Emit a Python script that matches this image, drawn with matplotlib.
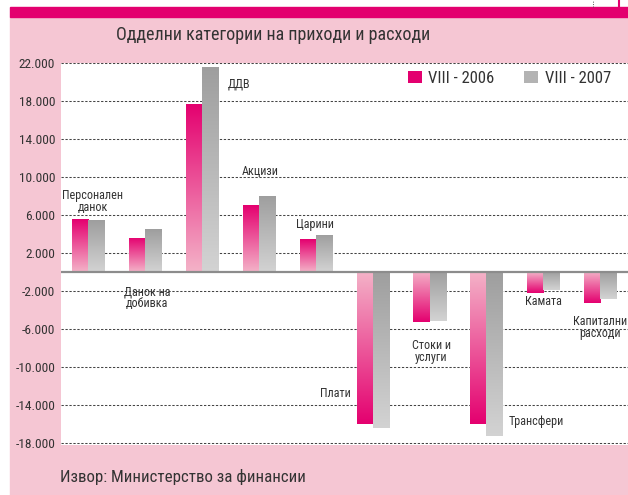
import numpy as np
import matplotlib
matplotlib.use('Agg')
import matplotlib.pyplot as plt
from matplotlib.patches import Rectangle, Patch
from matplotlib.colors import LinearSegmentedColormap
from matplotlib.ticker import FuncFormatter

# -----------------------------------------------
# -             DATA                            -
# -----------------------------------------------
categories = ['Персонален\nданок', 'Данок на\nдобивка', 'ДДВ', 'Акцизи', 'Царини',
              'Плати', 'Стоки и\nуслуги', 'Трансфери', 'Камата', 'Капитални\nрасходи']
values_2006 = [5500, 3600, 17700, 7000, 3400, -16000, -5300, -16000, -2200, -3300]
values_2007 = [5400, 4500, 21500, 8000, 3900, -16500, -5200, -17300, -1900, -2900]
series_names = ['VIII - 2006', 'VIII - 2007']
y_ticks = [22000, 18000, 14000, 10000, 6000, 2000, -2000, -6000, -10000, -14000, -18000]

# label anchor points (x index, y value)
label_x = [0.08, 1.03, 2.65, 3.02, 3.98, 4.34, 6.03, 7.88, 8.01, 9.0]
label_y = [7400, -2750, 19750, 10600, 5000, -12800, -8400, -15800, -3100, -5850]

title = 'Одделни категории на приходи и расходи'
source = 'Извор: Министерство за финансии'

# -----------------------------------------------
# -             STYLE                           -
# -----------------------------------------------
PINK_BG = '#F5C6D3'
MAGENTA = '#E3006F'
TEXT = '#333333'
plt.rcParams['font.family'] = ['Roboto Condensed', 'DejaVu Sans']

pink_cmap = LinearSegmentedColormap.from_list('pink', ['#F4B3C8', '#E4006F'])
grey_cmap = LinearSegmentedColormap.from_list('grey', ['#D3D3D3', '#9E9E9E'])

W, H = 628, 495
fig = plt.figure(figsize=(W / 100, H / 100), dpi=100)
fig.patch.set_facecolor('white')

# pink panel + magenta top bar
fig.add_artist(Rectangle((10 / W, 0), 1 - 10 / W, (H - 17) / H,
                         transform=fig.transFigure, color=PINK_BG, zorder=0))
fig.add_artist(Rectangle((10 / W, (H - 17) / H), 1 - 10 / W, 10 / H,
                         transform=fig.transFigure, color=MAGENTA, zorder=0))
fig.add_artist(plt.Line2D([593 / W, 593 / W], [(H - 7) / H, 1], transform=fig.transFigure,
                          color='#555555', lw=0.7, ls=(0, (1, 1.5))))
fig.add_artist(plt.Line2D([619 / W, 619 / W], [(H - 7) / H, 1], transform=fig.transFigure,
                          color=MAGENTA, lw=1.5))

ax = fig.add_axes([60.7 / W, 1 - 445 / H, 1 - 60.7 / W, (445 - 62.7) / H])
ax.set_facecolor('white')

# -----------------------------------------------
# -             BARS                            -
# -----------------------------------------------
x = np.arange(len(categories))
bw = 0.282
bars_a = ax.bar(x - bw / 2, values_2006, bw, facecolor='none', edgecolor='none', zorder=2)
bars_b = ax.bar(x + bw / 2, values_2007, bw, facecolor='none', edgecolor='none', zorder=2)

grad = np.linspace(0, 1, 256).reshape(-1, 1)
for bars, cmap, is_pink in [(bars_a, pink_cmap, True), (bars_b, grey_cmap, False)]:
    for b in bars:
        x0, w = b.get_x(), b.get_width()
        y0, h = b.get_y(), b.get_height()
        lo, hi = min(y0, y0 + h), max(y0, y0 + h)
        g = grad
        if is_pink and h < 0:
            g = grad[::-1]
        im = ax.imshow(g, extent=[x0, x0 + w, lo, hi], origin='lower', aspect='auto',
                       cmap=cmap, zorder=2, interpolation='bilinear')
        im.set_clip_path(b)

# -----------------------------------------------
# -             AXES                            -
# -----------------------------------------------
ax.set_xlim(-0.486, 9.49)
ax.set_ylim(-18240, 22000)
ax.set_yticks(y_ticks)
ax.yaxis.set_major_formatter(FuncFormatter(lambda v, p: f'{int(v):,}'.replace(',', '.')))
ax.set_xticks([])
ax.tick_params(axis='y', length=0, pad=4, labelsize=9.6, labelcolor=TEXT)
for s in ax.spines.values():
    s.set_visible(False)

ax.grid(axis='y', color='#444444', lw=0.75, ls=(0, (2.2, 1.6)), zorder=1)
ax.set_axisbelow(True)
ax.axhline(0, color='#8C8C8C', lw=1.6, zorder=3)

for lx, ly, txt in zip(label_x, label_y, categories):
    ax.text(lx, ly, txt, ha='center', va='center', fontsize=8.7, color=TEXT,
            linespacing=0.85, zorder=4)

handles = [Patch(facecolor=MAGENTA, edgecolor='none', label=series_names[0]),
           Patch(facecolor='#B3B3B3', edgecolor='none', label=series_names[1])]
leg = ax.legend(handles=handles, ncol=2, loc='upper left', bbox_to_anchor=(0.612, 0.978),
                frameon=False, fontsize=12, handlelength=0.82, handleheight=0.7,
                handletextpad=0.4, columnspacing=1.8, borderpad=0, borderaxespad=0)
for t in leg.get_texts():
    t.set_color(TEXT)

# -----------------------------------------------
# -             TITLE / SOURCE                  -
# -----------------------------------------------
fig.text(273.5 / W, 1 - 35 / H, title, ha='center', va='center', fontsize=13,
         color=TEXT)
fig.text(60 / W, 1 - 476.7 / H, source, ha='left', va='center', fontsize=12.2,
         color=TEXT)

fig.savefig('out.png', dpi=100)
